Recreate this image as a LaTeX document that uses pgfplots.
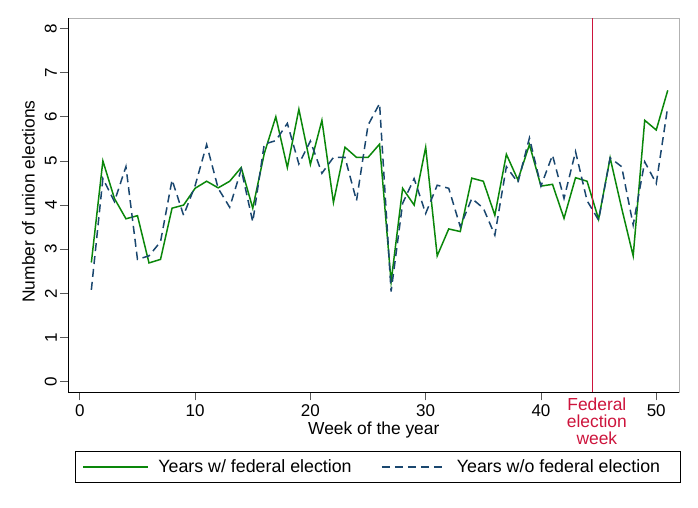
\documentclass[border=0pt]{standalone}
\usepackage{pgfplots}
\pgfplotsset{compat=1.18}
\usepackage{fontspec}
\setmainfont{Liberation Sans}
\definecolor{sgreen}{RGB}{10,135,10}
\definecolor{snavy}{RGB}{26,71,111}
\definecolor{sred}{RGB}{205,20,60}
\begin{document}
\begin{tikzpicture}[x=1pt,y=1pt]
\path[use as bounding box] (0,0) rectangle (698,507);
\begin{axis}[
  at={(68.3pt,114.7pt)}, anchor=south west,
  scale only axis, width=611pt, height=374pt,
  clip=false,
  xmin=-1, xmax=52, ymin=-0.24, ymax=8.23,
  xtick={0,10,20,30,40,50}, ytick={0,1,2,3,4,5,6,7,8},
  tick align=outside, tick pos=left, major tick length=8pt,
  tick style={gray!70!black, line width=0.8pt},
  axis line style={gray!60, line width=0.8pt},
  /pgf/number format/assume math mode=true,
  ticklabel style={font=\fontsize{17}{19}\selectfont},
  yticklabel style={rotate=90, anchor=south},
  xticklabel style={yshift=-1pt},
  xlabel={Week of the year},
  ylabel={Number of union elections},
  label style={font=\fontsize{17.4}{19}\selectfont},
  xlabel style={at={(axis description cs:0.5,0)}, anchor=center, yshift=-37.7pt},
  ylabel style={at={(axis description cs:-0.0651,0.51)}, anchor=center},
  legend style={at={(axis description cs:0.0109,-0.1561)}, anchor=north west,
    line width=0.8pt, font=\fontsize{17.8}{19}\selectfont,
    inner xsep=7.3pt, inner ysep=7.5pt,
    nodes={inner xsep=0pt, inner ysep=1pt},
    /tikz/every even column/.append style={column sep=29.5pt}},
  legend columns=2,
  legend image code/.code={\draw[#1] (0pt,0pt) -- (64.6pt,0pt); \path[draw=none] (0pt,0pt) -- (75pt,0pt);},
]
\addplot[draw=sgreen, line width=1.5pt] coordinates {
(1,2.70) (2,5.00) (3,4.15) (4,3.69) (5,3.76) (6,2.69) (7,2.77) (8,3.93) (9,4.00) (10,4.38)
(11,4.54) (12,4.39) (13,4.54) (14,4.85) (15,3.93) (16,5.17) (17,6.00) (18,4.85) (19,6.17) (20,4.92)
(21,5.92) (22,4.06) (23,5.31) (24,5.08) (25,5.08) (26,5.38) (27,2.26) (28,4.38) (29,4.00) (30,5.31)
(31,2.85) (32,3.46) (33,3.40) (34,4.61) (35,4.54) (36,3.77) (37,5.15) (38,4.57) (39,5.37) (40,4.43)
(41,4.47) (42,3.70) (43,4.62) (44,4.54) (45,3.68) (46,5.07) (47,3.93) (48,2.85) (49,5.92) (50,5.70)
(51,6.60)};
\addlegendentry{Years w/ federal election}
\addplot[draw=snavy, line width=1.5pt, dash pattern=on 8pt off 5pt] coordinates {
(1,2.08) (2,4.60) (3,4.08) (4,4.87) (5,2.77) (6,2.85) (7,3.17) (8,4.57) (9,3.77) (10,4.44)
(11,5.37) (12,4.38) (13,3.95) (14,4.81) (15,3.62) (16,5.38) (17,5.46) (18,5.85) (19,4.93) (20,5.45)
(21,4.72) (22,5.08) (23,5.08) (24,4.10) (25,5.81) (26,6.30) (27,2.04) (28,4.04) (29,4.60) (30,3.81)
(31,4.45) (32,4.38) (33,3.51) (34,4.15) (35,3.93) (36,3.32) (37,4.87) (38,4.51) (39,5.52) (40,4.43)
(41,5.13) (42,4.15) (43,5.21) (44,4.10) (45,3.66) (46,5.07) (47,4.87) (48,3.55) (49,4.98) (50,4.49)
(51,6.23)};
\addlegendentry{\makebox[216pt][l]{Years w/o federal election}}
\addplot[draw=sred, line width=1.3pt, forget plot] coordinates {(44.5,-0.24) (44.5,8.23)};
\node[anchor=north, text=sred, align=center, font=\fontsize{17.4}{17}\selectfont, inner sep=0pt]
  at (axis cs:44.85,-0.24) [yshift=-5pt] {Federal\\election\\week};
\draw[black, line width=1pt] (rel axis cs:0,1) -- (rel axis cs:0,0) -- (rel axis cs:1,0);
\end{axis}
\end{tikzpicture}
\end{document}
